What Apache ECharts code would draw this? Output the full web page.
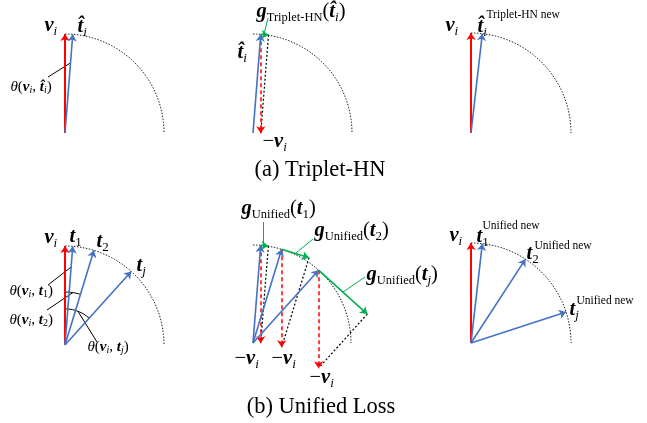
<!DOCTYPE html>
<html><head><meta charset="utf-8">
<script src="https://cdn.jsdelivr.net/npm/echarts@6/dist/echarts.min.js"></script>
<style>html,body{margin:0;padding:0;background:#fff}#c{width:647px;height:423px}</style>
</head><body><div id="c"></div>
<script>
// ---- data: angle (degrees) between v_i and each text vector ----
const tripletBefore = 4.5;            // t̂_i before the update
const tripletAfter = 6.5;             // t̂_i after the Triplet-HN update
const unifiedBefore = [4.5, 17, 42];  // t_1, t_2, t_j
const unifiedAfter = [6.5, 33, 72];   // after the Unified update
const unifiedNames = ['1', '2', 'j'];
const captions = ['(a) Triplet-HN', '(b) Unified Loss'];

// ---- layout (pixel-like data units) ----
const P = {
  a1:{x:65, y:133, r:99}, a2:{x:253, y:133, r:99}, a3:{x:471, y:133, r:100},
  b1:{x:65, y:345, r:99}, b2:{x:253, y:343, r:98}, b3:{x:471, y:343, r:100}
};
const SERIF = '"Liberation Serif","DejaVu Serif",serif';
const RED = '#ff0000', BLUE = '#4472c4', GREEN = '#00b050';

function pt(p, deg, f){ const a = deg*Math.PI/180; f = (f==null)?1:f;
  return [p.x + p.r*f*Math.sin(a), p.y - p.r*f*Math.cos(a)]; }
function arcPts(p, f, a0, a1){ const out=[]; for(let d=a0; d<=a1+1e-9; d+=1) out.push(pt(p,d,f)); return out; }
function add(a,b){ return [a[0]+b[0], a[1]+b[1]]; }
function scale(v,k){ return [v[0]*k, v[1]*k]; }
// tangential gradient of -v at t (screen coords, y down)
function gvec(p, deg){ const a=deg*Math.PI/180, m=p.r*Math.sin(a); return [m*Math.cos(a), m*Math.sin(a)]; }

const redSolid=[], blue=[], redDash=[], green=[], blackDot=[], leadBlack=[], leadGreen=[];
const arcSeries=[];

function quarter(p){ arcSeries.push({type:'line', data:arcPts(p,1,0,90), symbol:'none', silent:true,
  lineStyle:{color:'#222', width:1, type:[1.5,1.5]}}); }
Object.values(P).forEach(quarter);

// (a) left
redSolid.push([[P.a1.x,P.a1.y], pt(P.a1,0)]);
blue.push([[P.a1.x,P.a1.y], pt(P.a1,tripletBefore)]);
leadBlack.push([[48,77], pt(P.a1,tripletBefore,0.71)]);
// (a) middle
function gradPanel(p, deg, leaderFrom, leaderFrac){
  const O=[p.x,p.y], T=pt(p,deg), V=add(T,[0,p.r]), G=add(T,gvec(p,deg));
  blue.push([O,T]); redDash.push([T,V]); green.push([T,G]); blackDot.push([G,V]);
  leadGreen.push([leaderFrom, add(T, scale(gvec(p,deg), leaderFrac))]);
}
gradPanel(P.a2, tripletBefore, [268,18], 0.4);
// (a) right
redSolid.push([[P.a3.x,P.a3.y], pt(P.a3,0)]);
blue.push([[P.a3.x,P.a3.y], pt(P.a3,tripletAfter)]);
// (b) left
redSolid.push([[P.b1.x,P.b1.y], pt(P.b1,0)]);
unifiedBefore.forEach(d=>blue.push([[P.b1.x,P.b1.y], pt(P.b1,d)]));
arcSeries.push({type:'line', data:arcPts(P.b1,0.535,0,unifiedBefore[1]), symbol:'none', lineStyle:{color:'#000',width:1}});
arcSeries.push({type:'line', data:arcPts(P.b1,0.365,0,unifiedBefore[2]), symbol:'none', lineStyle:{color:'#000',width:1}});
leadBlack.push([[48,285], pt(P.b1,unifiedBefore[0],0.79)]);
leadBlack.push([[47,310], pt(P.b1,unifiedBefore[1]/2,0.535)]);
leadBlack.push([pt(P.b1,unifiedBefore[2]/2,0.365), [97,342]]);
// (b) middle
const gLeaders = [[263,222],[313,239],[365,277]];
const gFrac = [0.3, 0.5, 0.5];
unifiedBefore.forEach((d,i)=>gradPanel(P.b2, d, gLeaders[i], gFrac[i]));
// (b) right
redSolid.push([[P.b3.x,P.b3.y], pt(P.b3,0)]);
unifiedAfter.forEach(d=>blue.push([[P.b3.x,P.b3.y], pt(P.b3,d)]));

function linesSeries(arr, style, arrow, z){
  return {type:'lines', coordinateSystem:'cartesian2d', silent:true, z:z||3,
    symbol: arrow?['none','arrow']:['none','none'], symbolSize: arrow?7:0,
    lineStyle: Object.assign({opacity:1, curveness:0}, style),
    data: arr.map(c=>({coords:c}))};
}

// ---- text ----
function sub(n){ return /\d/.test(n) ? '{sn|'+n+'}' : '{s|'+n+'}'; }
function tsub(n){ return /\d/.test(n) ? '{tsn|'+n+'}' : '{ts|'+n+'}'; }
const V = '{v|v}{s|i}', TH = '{v|t\u0302}{s|i}';
const tLab = n => '{v|t}' + sub(n);
const theta = n => '{th|θ}{tp|(}{tv|v}{ts|i}{tp|, }{tv|t}' + tsub(n) + '{tp|)}';
const gU = n => '{v|g}{sr|Unified}{p|(}{v|t}' + sub(n) + '{p|)}';
const texts = [
  [44,26,V], [77,27,TH], [10,87,'{th|θ}{tp|(}{tv|v}{ts|i}{tp|, }{tv|t\u0302}{ts|i}{tp|)}'],
  [256,12,'{v|g}{sr|Triplet-HN}{p|(}{v|t\u0302}{s|i}{p|)}'], [237,53,TH], [262,142,'{p|−}'+V],
  [445,26,V], [477,27,TH], [486,15,'{sup|Triplet-HN new}'],
  [44,238,V], [69,237,tLab(unifiedNames[0])], [96,242,tLab(unifiedNames[1])], [136,266,tLab(unifiedNames[2])],
  [9,291,theta(unifiedNames[0])], [9,320,theta(unifiedNames[1])], [87,347,theta(unifiedNames[2])],
  [241,209,gU(unifiedNames[0])], [314,231,gU(unifiedNames[1])], [366,275,gU(unifiedNames[2])],
  [234,359,'{p|−}'+V], [271,359,'{p|−}'+V], [309,378,'{p|−}'+V],
  [449,236,V], [476,237,tLab(unifiedNames[0])], [482,226,'{sup|Unified new}'],
  [526,254,tLab(unifiedNames[1])], [534,246,'{sup|Unified new}'],
  [569,310,tLab(unifiedNames[2])], [576,301,'{sup|Unified new}']
];
const capPos = [[320,170],[321,407]];

const base = {fontFamily:SERIF, color:'#000', opacity:1, textBorderWidth:0};
const st = o => Object.assign({}, base, o);
const rich = {
  v:st({fontStyle:'italic',fontWeight:'bold',fontSize:20.5,lineHeight:24}),
  s:st({fontStyle:'italic',fontSize:13,verticalAlign:'bottom'}),
  sn:st({fontSize:13,verticalAlign:'bottom'}),
  sr:st({fontSize:12.5,verticalAlign:'bottom'}),
  p:st({fontSize:20.5,lineHeight:24}),
  sup:st({fontSize:11.5}),
  th:st({fontStyle:'italic',fontSize:15,lineHeight:17}),
  tp:st({fontSize:15,lineHeight:17}),
  tv:st({fontStyle:'italic',fontWeight:'bold',fontSize:15,lineHeight:17}),
  ts:st({fontStyle:'italic',fontSize:10,verticalAlign:'bottom'}),
  tsn:st({fontSize:10,verticalAlign:'bottom'})
};

const textSeries = {type:'scatter', silent:true, symbolSize:1, itemStyle:{color:'rgba(0,0,0,0)', opacity:1}, z:5,
  label:{show:true, position:'right', distance:0, opacity:1, color:'#000', rich:rich},
  data: texts.map(t=>({value:[t[0],t[1]], label:{formatter:t[2]}}))};
const capSeries = {type:'scatter', silent:true, symbolSize:1, itemStyle:{color:'rgba(0,0,0,0)', opacity:1}, z:5,
  label:{show:true, position:'inside', fontFamily:SERIF, fontSize:22.5, color:'#000', opacity:1, textBorderWidth:0,
    formatter:p=>captions[p.dataIndex]},
  data: capPos};

const chart = echarts.init(document.getElementById('c'), null, {renderer:'canvas'});
chart.setOption({
  animation:false, backgroundColor:'#fff',
  grid:{left:0,right:0,top:0,bottom:0},
  xAxis:{type:'value',min:0,max:647,show:false},
  yAxis:{type:'value',min:0,max:423,inverse:true,show:false},
  series: arcSeries.concat([
    linesSeries(leadBlack,{color:'#000',width:1},false,2),
    linesSeries(leadGreen,{color:GREEN,width:1},false,2),
    linesSeries(blackDot,{color:'#000',width:1.2,type:[2,2]},false,3),
    linesSeries(redDash,{color:RED,width:1.5,type:[4,3]},true,3),
    linesSeries(redSolid,{color:RED,width:2},true,4),
    linesSeries(blue,{color:BLUE,width:1.6},true,4),
    linesSeries(green,{color:GREEN,width:1.6},true,4),
    textSeries, capSeries
  ])
});
</script></body></html>
